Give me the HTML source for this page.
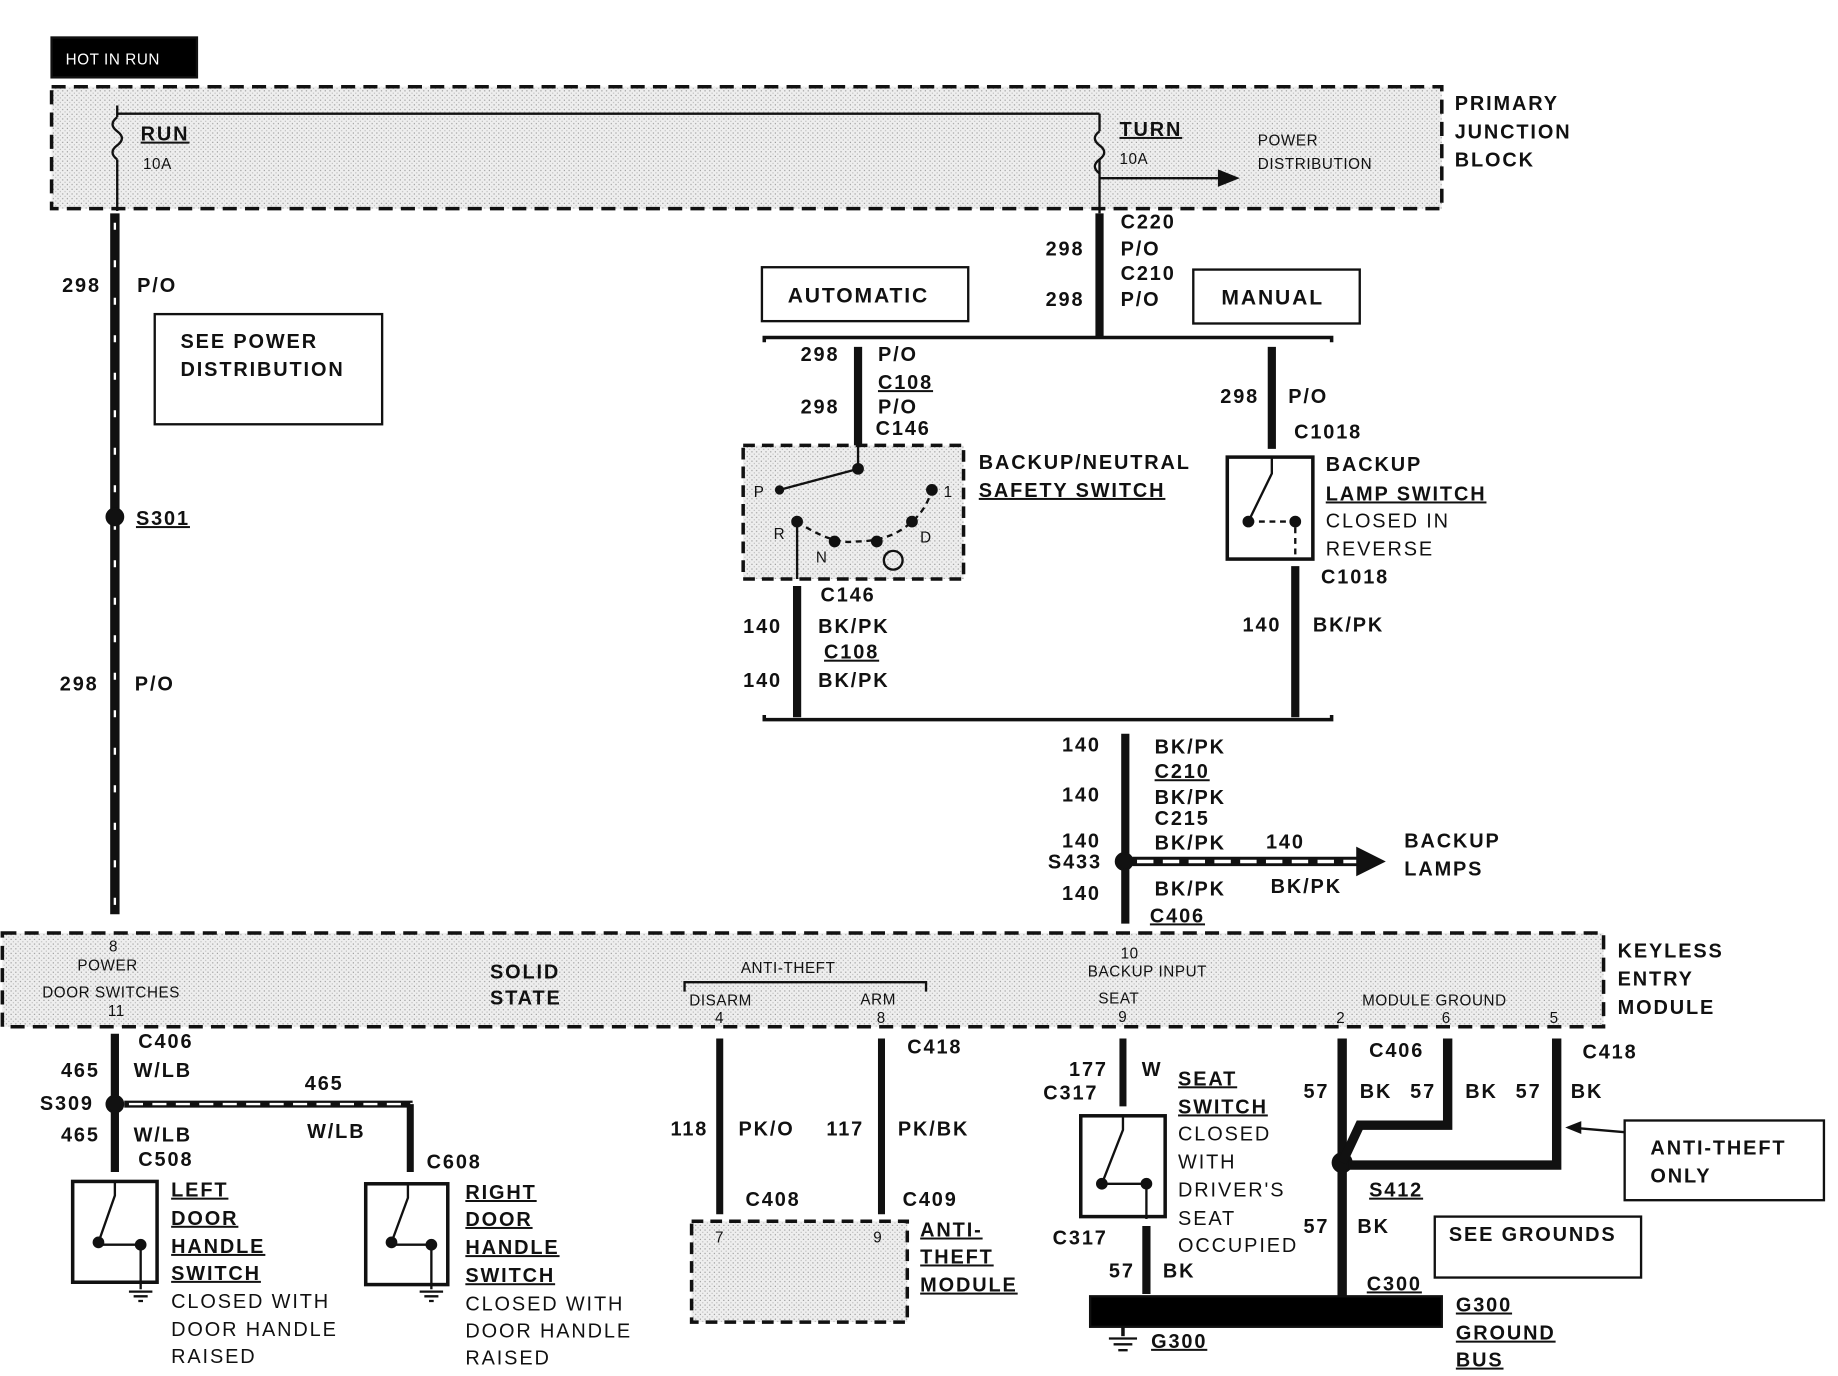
<!DOCTYPE html>
<html><head><meta charset="utf-8"><style>
html,body{margin:0;padding:0;background:#fff;}
svg{display:block;}
text{font-family:"Liberation Sans",sans-serif;font-weight:bold;fill:#111;}
.s{font-size:13px;font-weight:normal;letter-spacing:0.5px;}
.m{font-size:17px;letter-spacing:1.6px;}
.l{font-size:18px;letter-spacing:1.6px;}
</style></head><body>
<svg width="1838" height="1376" viewBox="0 0 1568 1174" preserveAspectRatio="none" xmlns="http://www.w3.org/2000/svg">
<defs>
<pattern id="dots" width="4" height="4" patternUnits="userSpaceOnUse"><rect width="4" height="4" fill="#eee"/><rect x="1" y="1" width="1" height="1" fill="#999"/><rect x="3" y="3" width="1" height="1" fill="#bbb"/></pattern>
</defs>
<g stroke="#111" fill="none" stroke-width="2">
<rect x="44" y="32" width="124" height="34" fill="#000"/>
<rect x="44" y="74" width="1186" height="104" fill="url(#dots)" stroke-dasharray="12,7" stroke-width="3"/>
<line x1="100" y1="90" x2="100" y2="100"/>
<line x1="100" y1="97" x2="938" y2="97"/>
<line x1="938" y1="97" x2="938" y2="112"/>
<path d="M100 100 q-8 6 0 12 q8 6 0 12 q-8 6 0 12"/>
<path d="M938 112 q-8 6 0 12 q8 6 0 12 q-8 6 0 12"/>
<line x1="100" y1="136" x2="100" y2="180"/>
<line x1="938" y1="136" x2="938" y2="182"/>
<line x1="938" y1="152" x2="1045" y2="152"/>
<path d="M1040 146 L1055 152 L1040 158 Z" fill="#111"/>
<line x1="98" y1="182" x2="98" y2="780" stroke-width="8"/>
<line x1="98" y1="190" x2="98" y2="780" stroke="#fff" stroke-width="2" stroke-dasharray="6,26"/>
<circle cx="98" cy="441" r="7" fill="#111"/>
<rect x="132" y="268" width="194" height="94"/>
<line x1="938" y1="182" x2="938" y2="288" stroke-width="7"/>
<rect x="650" y="228" width="176" height="46"/>
<rect x="1018" y="230" width="142" height="46"/>
<path d="M652 292 v-4 H1136 v4" stroke-width="3"/>
<line x1="732" y1="296" x2="732" y2="380" stroke-width="7"/>
<line x1="1085" y1="296" x2="1085" y2="383" stroke-width="7"/>
<rect x="634" y="380" width="188" height="114" stroke-dasharray="10,6" stroke-width="3" fill="url(#dots)"/>
<line x1="732" y1="380" x2="732" y2="400"/>
<path d="M665 418 L732 400" /><circle cx="732" cy="400" r="4" fill="#111"/>
<circle cx="665" cy="418" r="3" fill="#111"/><circle cx="795" cy="418" r="4" fill="#111"/>
<circle cx="680" cy="445" r="4" fill="#111"/><circle cx="712" cy="462" r="4" fill="#111"/><circle cx="748" cy="462" r="4" fill="#111"/><circle cx="778" cy="445" r="4" fill="#111"/>
<path d="M680 445 q30 20 50 17 q30 0 48 -17 q12 -10 17 -27" stroke-dasharray="5,4"/>
<line x1="680" y1="445" x2="680" y2="494"/>
<circle cx="762" cy="478" r="8"/>
<rect x="1047" y="390" width="73" height="87" stroke-width="3"/>
<path d="M1085 390 v14 L1065 445" /><circle cx="1065" cy="445" r="4" fill="#111"/><circle cx="1105" cy="445" r="4" fill="#111"/>
<path d="M1065 445 H1105 V477" stroke-dasharray="5,4"/>
<line x1="680" y1="500" x2="680" y2="612" stroke-width="7"/>
<line x1="1105" y1="483" x2="1105" y2="612" stroke-width="7"/>
<path d="M652 610 v4 H1136 v-4" stroke-width="3"/>
<line x1="960" y1="626" x2="960" y2="788" stroke-width="7"/>
<circle cx="959" cy="735" r="7" fill="#111"/>
<line x1="966" y1="735" x2="1160" y2="735" stroke-width="8"/>
<line x1="970" y1="735" x2="1160" y2="735" stroke="#fff" stroke-width="3" stroke-dasharray="14,8"/>
<path d="M1158 724 L1180 735 L1158 746 Z" fill="#111"/>
<rect x="2" y="796" width="1366" height="80" stroke-dasharray="12,7" stroke-width="3" fill="url(#dots)"/>
<path d="M584 846 v-8 H790 v8"/>
<line x1="98" y1="882" x2="98" y2="1000" stroke-width="7"/>
<circle cx="98" cy="942" r="7" fill="#111"/>
<line x1="106" y1="942" x2="352" y2="942" stroke-width="6"/>
<line x1="110" y1="942" x2="352" y2="942" stroke="#fff" stroke-width="2" stroke-dasharray="12,8"/>
<line x1="350" y1="942" x2="350" y2="1000" stroke-width="6"/>
<rect x="62" y="1008" width="72" height="86" stroke-width="3"/>
<rect x="312" y="1010" width="70" height="86" stroke-width="3"/>
<path d="M98 1008 v12 L84 1060"/><circle cx="84" cy="1060" r="4" fill="#111"/><circle cx="120" cy="1062" r="4" fill="#111"/><path d="M84 1062 H120 V1100"/>
<path d="M348 1010 v12 L334 1060"/><circle cx="334" cy="1060" r="4" fill="#111"/><circle cx="368" cy="1062" r="4" fill="#111"/><path d="M334 1062 H368 V1100"/>
<path d="M110 1102 h20 M114 1106 h12 M118 1110 h4 M358 1102 h20 M362 1106 h12 M366 1110 h4"/>
<line x1="614" y1="886" x2="614" y2="1036" stroke-width="6"/>
<line x1="752" y1="886" x2="752" y2="1036" stroke-width="6"/>
<rect x="590" y="1042" width="184" height="86" stroke-dasharray="10,6" stroke-width="3" fill="url(#dots)"/>
<line x1="958" y1="886" x2="958" y2="944" stroke-width="6"/>
<rect x="922" y="952" width="72" height="86" stroke-width="3"/>
<path d="M958 952 v12 L940 1010"/><circle cx="940" cy="1010" r="4" fill="#111"/><circle cx="978" cy="1010" r="4" fill="#111"/><path d="M940 1010 H978 V1040"/>
<line x1="978" y1="1046" x2="978" y2="1104" stroke-width="7"/>
<line x1="1145" y1="886" x2="1145" y2="1106" stroke-width="8"/>
<circle cx="1145" cy="992" r="8" fill="#111"/>
<path d="M1145 992 L1160 960 H1235 V886" stroke-width="8"/>
<path d="M1150 994 H1328 V886" stroke-width="8"/>
<path d="M1386 966 L1340 962"/><path d="M1338 962 l10 -4 v8z" fill="#111"/>
<rect x="1386" y="956" width="170" height="68"/>
<rect x="1224" y="1038" width="176" height="52"/>
<rect x="930" y="1106" width="300" height="26" fill="#000"/>
<line x1="958" y1="1132" x2="958" y2="1140" stroke-width="3"/>
<path d="M946 1142 h24 M950 1147 h16 M954 1152 h8"/>
</g>
<text x="56" y="55" class="s" style="fill:#fff">HOT IN RUN</text>
<text x="120" y="120" class="m" text-decoration="underline">RUN</text>
<text x="122" y="144" class="s">10A</text>
<text x="955" y="116" class="m" text-decoration="underline">TURN</text>
<text x="955" y="140" class="s">10A</text>
<text x="1073" y="124" class="s">POWER</text>
<text x="1073" y="144" class="s">DISTRIBUTION</text>
<text x="1241" y="94" class="m">PRIMARY</text>
<text x="1241" y="118" class="m">JUNCTION</text>
<text x="1241" y="142" class="m">BLOCK</text>
<text x="53" y="249" class="m">298</text><text x="117" y="249" class="m">P/O</text>
<text x="154" y="297" class="m">SEE POWER</text><text x="154" y="321" class="m">DISTRIBUTION</text>
<text x="116" y="448" class="m" text-decoration="underline">S301</text>
<text x="51" y="589" class="m">298</text><text x="115" y="589" class="m">P/O</text>
<text x="956" y="195" class="m">C220</text>
<text x="892" y="218" class="m">298</text><text x="956" y="218" class="m">P/O</text>
<text x="956" y="239" class="m">C210</text>
<text x="892" y="261" class="m">298</text><text x="956" y="261" class="m">P/O</text>
<text x="672" y="258" class="l">AUTOMATIC</text>
<text x="1042" y="260" class="l">MANUAL</text>
<text x="683" y="308" class="m">298</text><text x="749" y="308" class="m">P/O</text>
<text x="749" y="332" class="m" text-decoration="underline">C108</text>
<text x="683" y="353" class="m">298</text><text x="749" y="353" class="m">P/O</text>
<text x="747" y="371" class="m">C146</text>
<text x="835" y="400" class="m">BACKUP/NEUTRAL</text>
<text x="835" y="424" class="m" text-decoration="underline">SAFETY SWITCH</text>
<text x="643" y="424" class="s">P</text><text x="805" y="424" class="s">1</text>
<text x="660" y="460" class="s">R</text><text x="696" y="480" class="s">N</text><text x="785" y="463" class="s">D</text>
<text x="1041" y="344" class="m">298</text><text x="1099" y="344" class="m">P/O</text>
<text x="1104" y="374" class="m">C1018</text>
<text x="1131" y="402" class="m">BACKUP</text>
<text x="1131" y="427" class="m" text-decoration="underline">LAMP SWITCH</text>
<text x="1131" y="450" class="m" style="font-weight:normal">CLOSED IN</text>
<text x="1131" y="474" class="m" style="font-weight:normal">REVERSE</text>
<text x="1127" y="498" class="m">C1018</text>
<text x="1060" y="539" class="m">140</text><text x="1120" y="539" class="m">BK/PK</text>
<text x="700" y="513" class="m">C146</text>
<text x="634" y="540" class="m">140</text><text x="698" y="540" class="m">BK/PK</text>
<text x="703" y="562" class="m" text-decoration="underline">C108</text>
<text x="634" y="586" class="m">140</text><text x="698" y="586" class="m">BK/PK</text>
<text x="906" y="641" class="m">140</text><text x="985" y="643" class="m">BK/PK</text>
<text x="985" y="664" class="m" text-decoration="underline">C210</text>
<text x="906" y="684" class="m">140</text><text x="985" y="686" class="m">BK/PK</text>
<text x="985" y="704" class="m">C215</text>
<text x="906" y="723" class="m">140</text><text x="985" y="725" class="m">BK/PK</text>
<text x="1080" y="724" class="m">140</text>
<text x="894" y="741" class="m">S433</text>
<text x="1198" y="723" class="m">BACKUP</text><text x="1198" y="747" class="m">LAMPS</text>
<text x="906" y="768" class="m">140</text><text x="985" y="764" class="m">BK/PK</text>
<text x="1084" y="762" class="m">BK/PK</text>
<text x="981" y="787" class="m" text-decoration="underline">C406</text>
<text x="1380" y="817" class="m">KEYLESS</text><text x="1380" y="841" class="m">ENTRY</text><text x="1380" y="865" class="m">MODULE</text>
<text x="93" y="812" class="s">8</text>
<text x="66" y="828" class="s">POWER</text>
<text x="36" y="851" class="s">DOOR SWITCHES</text>
<text x="92" y="867" class="s">11</text>
<text x="418" y="835" class="m">SOLID</text><text x="418" y="857" class="m">STATE</text>
<text x="632" y="830" class="s">ANTI-THEFT</text>
<text x="588" y="858" class="s">DISARM</text><text x="734" y="857" class="s">ARM</text>
<text x="610" y="873" class="s">4</text><text x="748" y="873" class="s">8</text>
<text x="956" y="818" class="s">10</text>
<text x="928" y="833" class="s">BACKUP INPUT</text>
<text x="937" y="856" class="s">SEAT</text><text x="954" y="872" class="s">9</text>
<text x="1162" y="858" class="s">MODULE GROUND</text>
<text x="1140" y="873" class="s">2</text><text x="1230" y="873" class="s">6</text><text x="1322" y="873" class="s">5</text>
<text x="118" y="894" class="m">C406</text>
<text x="52" y="919" class="m">465</text><text x="114" y="919" class="m">W/LB</text>
<text x="260" y="930" class="m">465</text>
<text x="34" y="947" class="m">S309</text>
<text x="52" y="974" class="m">465</text><text x="114" y="974" class="m">W/LB</text>
<text x="262" y="971" class="m">W/LB</text>
<text x="118" y="995" class="m">C508</text>
<text x="364" y="997" class="m">C608</text>
<text x="146" y="1021" class="m" text-decoration="underline">LEFT</text><text x="146" y="1045" class="m" text-decoration="underline">DOOR</text><text x="146" y="1069" class="m" text-decoration="underline">HANDLE</text><text x="146" y="1092" class="m" text-decoration="underline">SWITCH</text>
<text x="146" y="1116" class="m" style="font-weight:normal">CLOSED WITH</text><text x="146" y="1140" class="m" style="font-weight:normal">DOOR HANDLE</text><text x="146" y="1163" class="m" style="font-weight:normal">RAISED</text>
<text x="397" y="1023" class="m" text-decoration="underline">RIGHT</text><text x="397" y="1046" class="m" text-decoration="underline">DOOR</text><text x="397" y="1070" class="m" text-decoration="underline">HANDLE</text><text x="397" y="1094" class="m" text-decoration="underline">SWITCH</text>
<text x="397" y="1118" class="m" style="font-weight:normal">CLOSED WITH</text><text x="397" y="1141" class="m" style="font-weight:normal">DOOR HANDLE</text><text x="397" y="1164" class="m" style="font-weight:normal">RAISED</text>
<text x="774" y="899" class="m">C418</text>
<text x="572" y="969" class="m">118</text><text x="630" y="969" class="m">PK/O</text>
<text x="705" y="969" class="m">117</text><text x="766" y="969" class="m">PK/BK</text>
<text x="636" y="1029" class="m">C408</text><text x="770" y="1029" class="m">C409</text>
<text x="610" y="1060" class="s">7</text><text x="745" y="1060" class="s">9</text>
<text x="785" y="1055" class="m" text-decoration="underline">ANTI-</text><text x="785" y="1078" class="m" text-decoration="underline">THEFT</text><text x="785" y="1102" class="m" text-decoration="underline">MODULE</text>
<text x="912" y="918" class="m">177</text><text x="974" y="918" class="m">W</text>
<text x="890" y="938" class="m">C317</text>
<text x="1005" y="926" class="m" text-decoration="underline">SEAT</text><text x="1005" y="950" class="m" text-decoration="underline">SWITCH</text>
<text x="1005" y="973" class="m" style="font-weight:normal">CLOSED</text><text x="1005" y="997" class="m" style="font-weight:normal">WITH</text>
<text x="1005" y="1021" class="m" style="font-weight:normal">DRIVER'S</text><text x="1005" y="1045" class="m" style="font-weight:normal">SEAT</text><text x="1005" y="1068" class="m" style="font-weight:normal">OCCUPIED</text>
<text x="898" y="1062" class="m">C317</text>
<text x="946" y="1090" class="m">57</text><text x="992" y="1090" class="m">BK</text>
<text x="1168" y="902" class="m">C406</text><text x="1350" y="903" class="m">C418</text>
<text x="1112" y="937" class="m">57</text><text x="1160" y="937" class="m">BK</text>
<text x="1203" y="937" class="m">57</text><text x="1250" y="937" class="m">BK</text>
<text x="1293" y="937" class="m">57</text><text x="1340" y="937" class="m">BK</text>
<text x="1168" y="1021" class="m" text-decoration="underline">S412</text>
<text x="1112" y="1052" class="m">57</text><text x="1158" y="1052" class="m">BK</text>
<text x="1166" y="1101" class="m" text-decoration="underline">C300</text>
<text x="1408" y="985" class="m">ANTI-THEFT</text><text x="1408" y="1009" class="m">ONLY</text>
<text x="1236" y="1059" class="m">SEE GROUNDS</text>
<text x="1242" y="1119" class="m" text-decoration="underline">G300</text><text x="1242" y="1143" class="m" text-decoration="underline">GROUND</text><text x="1242" y="1166" class="m" text-decoration="underline">BUS</text>
<text x="982" y="1150" class="m" text-decoration="underline">G300</text>
</svg>
</body></html>
